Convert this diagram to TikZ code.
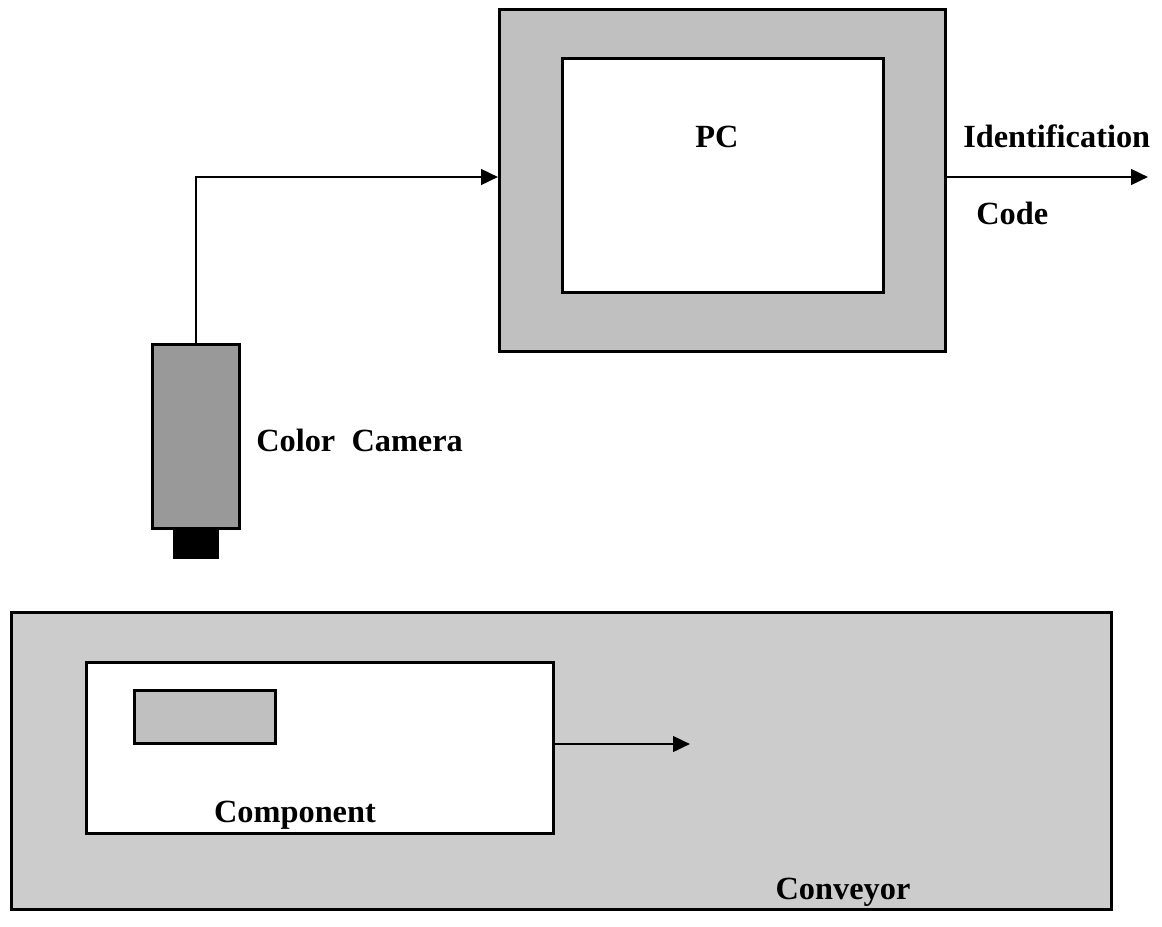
\documentclass[tikz,border=0pt]{standalone}
\usepackage{fontspec}
\setmainfont{Liberation Serif}
\usetikzlibrary{arrows.meta,positioning}
\definecolor{pcgray}{HTML}{C0C0C0}
\definecolor{camgray}{HTML}{999999}
\definecolor{convgray}{HTML}{CCCCCC}
\begin{document}
\begin{tikzpicture}[
    x=0.025cm, y=-0.025cm,
    every node/.style={font=\fontsize{23}{27}\selectfont\bfseries},
    box/.style={draw, line width=2pt, inner sep=0pt, anchor=north west},
    conn/.style={draw, line width=2pt, -{Triangle[length=12pt,width=11pt]}},
    lbl/.style={inner sep=0pt},
  ]
  \useasboundingbox (0,0) rectangle (1162,926);
  % PC
  \node[box, fill=pcgray, minimum width=446*0.025cm, minimum height=342*0.025cm] (pc) at (498,8) {};
  \node[box, fill=white, minimum width=321*0.025cm, minimum height=234*0.025cm] (pcin) at (561,57) {};
  \node[lbl] (pclbl) at (717,137) {PC};
  % camera
  \node[box, fill=camgray, minimum width=87*0.025cm, minimum height=184*0.025cm] (cam) at (151,343) {};
  \node[box, fill=black, minimum width=43*0.025cm, minimum height=26*0.025cm, anchor=north] (lens) at (cam.south) {};
  \node[lbl, anchor=west] (camlbl) at (256,440) {Color~~Camera};
  % conveyor
  \node[box, fill=convgray, minimum width=1100*0.025cm, minimum height=297*0.025cm] (conv) at (10,611) {};
  \node[box, fill=white, minimum width=467*0.025cm, minimum height=171*0.025cm] (comp) at (85,661) {};
  \node[box, fill=pcgray, minimum width=141*0.025cm, minimum height=53*0.025cm] (part) at (133,689) {};
  \node[lbl] (complbl) at (295,815) {Component};
  \node[lbl] (convlbl) at (843,892) {Conveyor};
  % connectors
  \coordinate (out) at (1148,177);
  \coordinate (move) at (690,744);
  \draw[conn] (cam.north) |- (pc.west |- 0,177);
  \draw[conn] (pc.east |- 0,177) -- (out);
  \draw[conn] (comp.east |- 0,744) -- (move);
  \node[lbl, anchor=west] (idlbl) at (963,136) {Identification};
  \node[lbl, anchor=west] (codelbl) at (976,213) {Code};
\end{tikzpicture}
\end{document}
